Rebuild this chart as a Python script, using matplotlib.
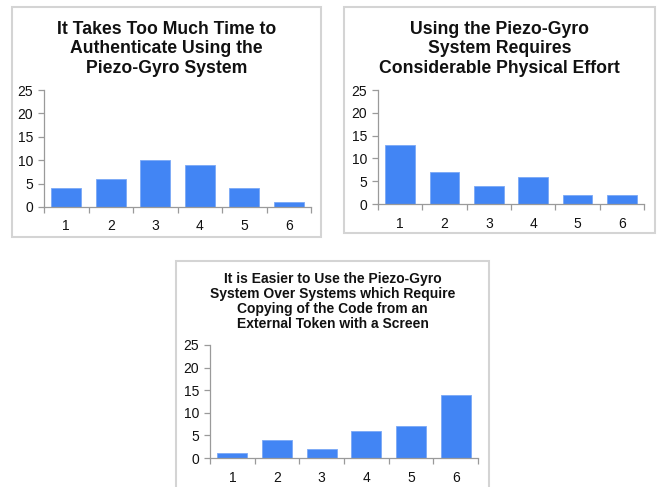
import matplotlib
matplotlib.use("Agg")
import matplotlib.pyplot as plt
from matplotlib.patches import Rectangle

plt.rcParams['font.family'] = ['Liberation Sans', 'DejaVu Sans']

ratings = [1, 2, 3, 4, 5, 6]
time_counts = [4, 6, 10, 9, 4, 1]
effort_counts = [13, 7, 4, 6, 2, 2]
easier_counts = [1, 4, 2, 6, 7, 14]

time_title = "It Takes Too Much Time to\nAuthenticate Using the\nPiezo-Gyro System"
effort_title = "Using the Piezo-Gyro\nSystem Requires\nConsiderable Physical Effort"
easier_title = ("It is Easier to Use the Piezo-Gyro\nSystem Over Systems which Require\n"
                "Copying of the Code from an\nExternal Token with a Screen")

BAR = '#4285f4'
W, H = 657, 487

fig = plt.figure(figsize=(W / 100, H / 100), dpi=100)


def px_box(x0, y0, x1, y1):
    # pixel coords (top-left origin) -> figure fraction rect
    return [x0 / W, 1 - y1 / H, (x1 - x0) / W, (y1 - y0) / H]


def frame(x0, y0, x1, y1):
    l, b, w, h = px_box(x0, y0, x1, y1)
    fig.patches.append(Rectangle((l, b), w, h, transform=fig.transFigure,
                                 fill=False, ec='#d4d4d4', lw=1.5))


def bar_panel(rect, counts, title, title_xy, title_size, spacing):
    ax = fig.add_axes(px_box(*rect))
    ax.bar(ratings, counts, width=0.67, color=BAR, edgecolor='#7aa8f6', lw=0.6)
    ax.set_xlim(0.5, 6.5)
    ax.set_ylim(0, 25)
    ax.set_yticks(range(0, 26, 5))
    ax.set_xticks(ratings)
    ax.set_xticks([0.5 + i for i in range(7)], minor=True)
    for s in ['top', 'right']:
        ax.spines[s].set_visible(False)
    for s in ['left', 'bottom']:
        ax.spines[s].set_color('#9a9a9a')
        ax.spines[s].set_linewidth(0.9)
    ax.tick_params(axis='x', which='major', length=0, labelsize=10, pad=9,
                   labelcolor='#111111')
    ax.tick_params(axis='x', which='minor', length=4, color='#9a9a9a', width=0.9)
    ax.tick_params(axis='y', length=4, color='#9a9a9a', width=0.9, labelsize=10,
                   pad=4, labelcolor='#111111')
    tx, ty = title_xy
    fig.text(tx / W, 1 - ty / H, title, ha='center', va='top', fontsize=title_size,
             fontweight='bold', linespacing=spacing, color='#111111')
    return ax


frame(12, 7, 321, 237)
frame(344, 7, 655, 233)
frame(176, 261, 489, 492)

bar_panel((44, 90, 311, 207), time_counts, time_title, (166.5, 21), 12.7, 1.18)
bar_panel((378, 90, 644, 204), effort_counts, effort_title, (499.5, 21), 12.7, 1.18)
bar_panel((210, 345, 478, 458), easier_counts, easier_title, (332.5, 272), 10, 1.08)

fig.savefig("out.png", dpi=100, facecolor='white')
